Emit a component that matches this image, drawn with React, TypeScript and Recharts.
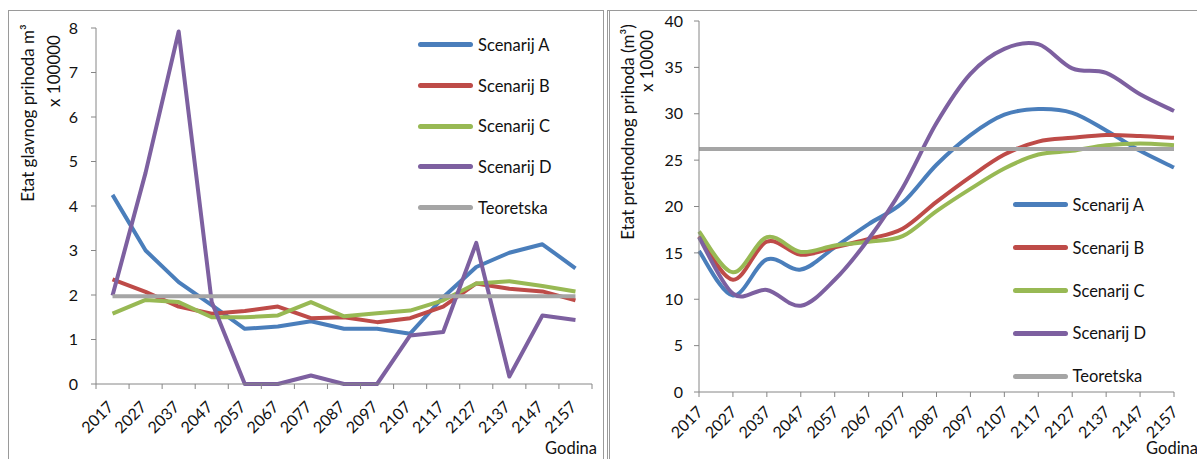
import React from "react";
import { Legend, Line, LineChart, XAxis, YAxis } from "recharts";

const YEARS = [
  "2017", "2027", "2037", "2047", "2057", "2067", "2077", "2087",
  "2097", "2107", "2117", "2127", "2137", "2147", "2157",
];

const SERIES = [
  { key: "A", name: "Scenarij A", color: "#4A7EBB" },
  { key: "B", name: "Scenarij B", color: "#BE4B48" },
  { key: "C", name: "Scenarij C", color: "#98B954" },
  { key: "D", name: "Scenarij D", color: "#7D60A0" },
  { key: "T", name: "Teoretska", color: "#A5A5A5" },
];

// etat glavnog prihoda (m3 x 100000)
const MAIN_A = [4.25, 3.0, 2.29, 1.77, 1.24, 1.29, 1.41, 1.24, 1.24, 1.13, 1.95, 2.63, 2.95, 3.14, 2.6];
const MAIN_B = [2.35, 2.07, 1.74, 1.58, 1.64, 1.74, 1.48, 1.5, 1.39, 1.48, 1.74, 2.26, 2.14, 2.08, 1.88];
const MAIN_C = [1.58, 1.89, 1.84, 1.5, 1.5, 1.54, 1.84, 1.52, 1.59, 1.65, 1.88, 2.26, 2.31, 2.2, 2.08];
const MAIN_D = [1.99, 4.75, 7.92, 1.84, 0, 0, 0.19, 0, 0, 1.09, 1.17, 3.17, 0.17, 1.54, 1.44];
const MAIN_T = [1.97, 1.97, 1.97, 1.97, 1.97, 1.97, 1.97, 1.97, 1.97, 1.97, 1.97, 1.97, 1.97, 1.97, 1.97];
const MAIN_Y_TICKS = [0, 1, 2, 3, 4, 5, 6, 7, 8];

// etat prethodnog prihoda (m3 x 10000)
const PRE_A = [15.2, 10.4, 14.3, 13.2, 15.6, 18.1, 20.4, 24.5, 27.7, 29.9, 30.5, 30.1, 28.2, 26.0, 24.2];
const PRE_B = [16.8, 12.1, 16.2, 14.8, 15.6, 16.5, 17.6, 20.5, 23.2, 25.6, 27.0, 27.4, 27.7, 27.6, 27.4];
const PRE_C = [17.3, 12.9, 16.7, 15.1, 15.8, 16.2, 16.8, 19.5, 21.9, 24.1, 25.6, 26.0, 26.6, 26.8, 26.6];
const PRE_D = [16.7, 10.6, 11.0, 9.3, 12.1, 16.5, 22.0, 29.0, 34.3, 37.0, 37.5, 34.9, 34.4, 32.1, 30.3];
const PRE_T = [26.2, 26.2, 26.2, 26.2, 26.2, 26.2, 26.2, 26.2, 26.2, 26.2, 26.2, 26.2, 26.2, 26.2, 26.2];
const PRE_Y_TICKS = [0, 5, 10, 15, 20, 25, 30, 35, 40];

const AXIS = "#868686";
const BORDER = "#9a9a9a";

const mainData = YEARS.map((_, i) => ({
  i,
  A: MAIN_A[i],
  B: MAIN_B[i],
  C: MAIN_C[i],
  D: MAIN_D[i],
  T: MAIN_T[i],
}));

const preData = YEARS.map((year, i) => ({
  year,
  A: PRE_A[i],
  B: PRE_B[i],
  C: PRE_C[i],
  D: PRE_D[i],
  T: PRE_T[i],
}));

// category labels sit between the tick marks on the left chart
const MAIN_X_TICKS: number[] = [];
for (let k = -1; k < YEARS.length * 2; k++) MAIN_X_TICKS.push(k / 2);

// Excel-style smoothed line (Catmull-Rom through the points)
function smoothCurve(context: any) {
  let pts: number[][] = [];
  return {
    areaStart() {},
    areaEnd() {},
    lineStart() {
      pts = [];
    },
    point(x: number, y: number) {
      pts.push([+x, +y]);
    },
    lineEnd() {
      if (!pts.length) return;
      context.moveTo(pts[0][0], pts[0][1]);
      for (let i = 0; i < pts.length - 1; i++) {
        const p0 = pts[i - 1] || pts[i];
        const p1 = pts[i];
        const p2 = pts[i + 1];
        const p3 = pts[i + 2] || p2;
        context.bezierCurveTo(
          p1[0] + (p2[0] - p0[0]) / 6, p1[1] + (p2[1] - p0[1]) / 6,
          p2[0] - (p3[0] - p1[0]) / 6, p2[1] - (p3[1] - p1[1]) / 6,
          p2[0], p2[1],
        );
      }
    },
  };
}

function MainTick(props: any) {
  const { x, y, payload } = props;
  const v = payload.value;
  if (!Number.isInteger(v)) {
    return <line x1={x} y1={y} x2={x} y2={y + 5} stroke={AXIS} />;
  }
  const px = x + 2;
  const py = y + 24;
  return (
    <text x={px} y={py} textAnchor="end" fontSize={16} fill="#111"
      transform={`rotate(-45 ${px} ${py})`}>
      {YEARS[v]}
    </text>
  );
}

function PreTick(props: any) {
  const { x, y, payload } = props;
  const px = x + 5;
  const py = y + 16;
  return (
    <text x={px} y={py} textAnchor="end" fontSize={16} fill="#111"
      transform={`rotate(-45 ${px} ${py})`}>
      {payload.value}
    </text>
  );
}

const legendContent = (rowH: number) => (props: any) => (
  <div>
    {(props.payload || []).map((p: any) => (
      <div key={p.value} style={{ display: "flex", alignItems: "center", height: rowH }}>
        <span style={{ display: "inline-block", width: 55, height: 5, borderRadius: 3, background: p.color, marginRight: 5 }} />
        <span style={{ fontSize: 16.5, color: "#111", whiteSpace: "nowrap" }}>{p.value}</span>
      </div>
    ))}
  </div>
);

function seriesLines(type: any) {
  return SERIES.map((s) => (
    <Line
      key={s.key}
      type={type}
      dataKey={s.key}
      name={s.name}
      stroke={s.color}
      strokeWidth={4}
      strokeLinejoin="round"
      dot={false}
      activeDot={false}
      legendType="line"
      isAnimationActive={false}
    />
  ));
}

export default function App() {
  return (
    <div style={{ position: "absolute", left: 0, top: 0, width: 1197, height: 459, background: "#fff", overflow: "hidden", fontFamily: "Lato, sans-serif" }}>
      <div style={{ position: "absolute", left: 8, top: 10, width: 596, height: 470, border: `1px solid ${BORDER}`, boxSizing: "border-box" }} />
      <div style={{ position: "absolute", left: 607, top: 10, width: 620, height: 470, border: `1px solid ${BORDER}`, borderLeft: `3px double ${BORDER}`, boxSizing: "border-box" }} />

      <div style={{ position: "absolute", left: 0, top: 0 }}>
        <LineChart width={605} height={459} data={mainData} margin={{ top: 28, right: 13, bottom: 0, left: 0 }}>
          <XAxis
            type="number"
            dataKey="i"
            domain={[-0.5, YEARS.length - 0.5]}
            ticks={MAIN_X_TICKS}
            interval={0}
            height={75}
            tickSize={0}
            tickMargin={0}
            tickLine={false}
            axisLine={{ stroke: AXIS }}
            tick={<MainTick />}
          />
          <YAxis
            domain={[0, 8]}
            ticks={MAIN_Y_TICKS}
            interval={0}
            width={96}
            tickSize={5}
            tickMargin={13}
            axisLine={{ stroke: AXIS }}
            tickLine={{ stroke: AXIS }}
            tick={{ fontSize: 16, fill: "#111" }}
          />
          <Legend
            layout="horizontal"
            align="center"
            verticalAlign="middle"
            content={legendContent(40.7)}
            wrapperStyle={{ position: "absolute", left: 418, top: 24.5, width: 170, height: 205 }}
          />
          {seriesLines("linear")}
        </LineChart>
      </div>

      <div style={{ position: "absolute", left: 600, top: 0 }}>
        <LineChart width={597} height={459} data={preData} margin={{ top: 21, right: 23, bottom: 0, left: 0 }}>
          <XAxis
            dataKey="year"
            interval={0}
            height={67}
            tickSize={5}
            tickMargin={0}
            axisLine={{ stroke: AXIS }}
            tickLine={{ stroke: AXIS }}
            tick={<PreTick />}
          />
          <YAxis
            domain={[0, 40]}
            ticks={PRE_Y_TICKS}
            interval={0}
            width={99}
            tickSize={5}
            tickMargin={11}
            axisLine={{ stroke: AXIS }}
            tickLine={{ stroke: AXIS }}
            tick={{ fontSize: 16, fill: "#111" }}
          />
          <Legend
            layout="horizontal"
            align="center"
            verticalAlign="middle"
            content={legendContent(42.8)}
            wrapperStyle={{ position: "absolute", left: 412.5, top: 183.6, width: 170, height: 215 }}
          />
          {seriesLines(smoothCurve)}
        </LineChart>
      </div>

      <svg width={1197} height={459} style={{ position: "absolute", left: 0, top: 0, pointerEvents: "none" }}>
        <g fontSize={17} fill="#111">
          <text x={27} y={113} textAnchor="middle" dominantBaseline="central" transform="rotate(-90 27 113)">
            Etat glavnog prihoda m³
          </text>
          <text x={53} y={71} textAnchor="middle" dominantBaseline="central" transform="rotate(-90 53 71)">
            x 100000
          </text>
          <text x={627} y={132} textAnchor="middle" dominantBaseline="central" transform="rotate(-90 627 132)">
            Etat prethodnog prihoda (m³)
          </text>
          <text x={646} y={61} textAnchor="middle" dominantBaseline="central" transform="rotate(-90 646 61)">
            x 10000
          </text>
          <text x={597} y={454} textAnchor="end" fontSize={16.5}>Godina</text>
          <text x={1198} y={454} textAnchor="end" fontSize={16.5}>Godina</text>
        </g>
      </svg>
    </div>
  );
}
